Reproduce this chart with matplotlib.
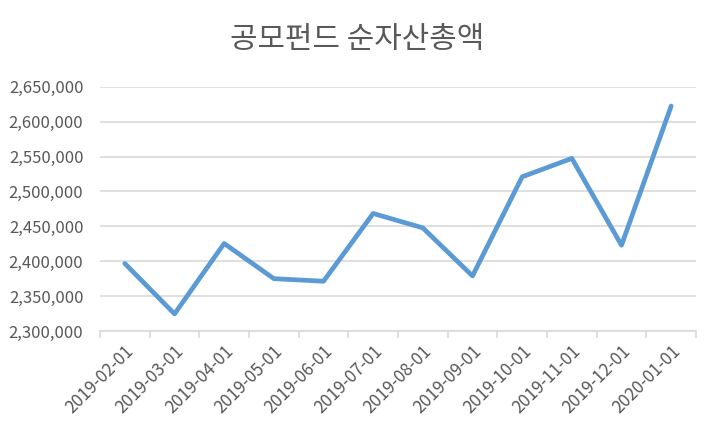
import matplotlib
matplotlib.use("Agg")
import matplotlib.pyplot as plt
from matplotlib.ticker import FuncFormatter, FixedLocator, NullFormatter

plt.rcParams['font.family'] = ['Noto Sans CJK KR', 'DejaVu Sans']

TITLE = "공모펀드 순자산총액"
DATES = ["2019-02-01", "2019-03-01", "2019-04-01", "2019-05-01",
         "2019-06-01", "2019-07-01", "2019-08-01", "2019-09-01",
         "2019-10-01", "2019-11-01", "2019-12-01", "2020-01-01"]
NAV = [2396700, 2324500, 2425400, 2375000, 2371300, 2468400,
       2447700, 2378900, 2520900, 2547300, 2422900, 2622300]

GREY = "#595959"
GRID = "#d9d9d9"
BLUE = "#5b9bd5"

fig = plt.figure(figsize=(7.05, 4.26), dpi=100)
ax = fig.add_axes([100 / 705, 1 - 331 / 426, 596 / 705, (331 - 86.7) / 426])

x = list(range(len(DATES)))
ax.plot(x, NAV, color=BLUE, linewidth=3.4, solid_joinstyle="round",
        solid_capstyle="round", zorder=3)

ax.set_xlim(-0.5, len(DATES) - 0.5)
ax.set_ylim(2300000, 2650000)
ax.set_yticks(range(2300000, 2650001, 50000))
ax.yaxis.set_major_formatter(FuncFormatter(lambda v, p: f"{int(v):,}"))
ax.grid(axis="y", color=GRID, linewidth=1.2, zorder=0)

# category labels at centres, tick marks at boundaries
ax.set_xticks(x)
ax.set_xticklabels(DATES, rotation=45, ha="right", rotation_mode="anchor")
ax.xaxis.set_minor_locator(FixedLocator([i - 0.5 for i in range(len(DATES) + 1)]))
ax.xaxis.set_minor_formatter(NullFormatter())
ax.tick_params(axis="x", which="major", length=0, pad=8, labelsize=12.3,
               labelcolor=GREY)
ax.tick_params(axis="x", which="minor", length=5, width=1.2, color=GRID)
ax.tick_params(axis="y", length=0, pad=12, labelsize=12, labelcolor=GREY)

for s in ["top", "right", "left"]:
    ax.spines[s].set_visible(False)
ax.spines["bottom"].set_color(GRID)
ax.spines["bottom"].set_linewidth(1.2)

fig.text(357 / 705, 1 - 39 / 426, TITLE, ha="center", va="center",
         fontsize=21.5, color=GREY)

fig.savefig("out.png", dpi=100)
